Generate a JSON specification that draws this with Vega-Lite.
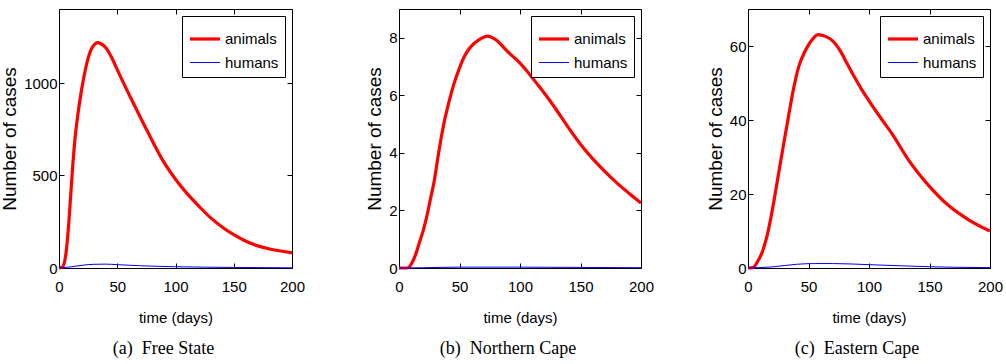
{
  "$schema": "https://vega.github.io/schema/vega-lite/v6.json",
  "bounds": "flush",
  "spacing": 107,
  "padding": {"left": 0, "top": 8, "right": 0, "bottom": 0},
  "background": "white",
  "resolve": {"scale": {"color": "independent", "strokeWidth": "independent"}, "legend": {"color": "independent", "strokeWidth": "independent"}},
  "datasets": {
    "fs": [
      {"day": 0, "series": "animals", "cases": 0},
      {"day": 3, "series": "animals", "cases": 6},
      {"day": 6, "series": "animals", "cases": 80},
      {"day": 8, "series": "animals", "cases": 210},
      {"day": 10, "series": "animals", "cases": 390},
      {"day": 12, "series": "animals", "cases": 570},
      {"day": 14, "series": "animals", "cases": 715},
      {"day": 16, "series": "animals", "cases": 820},
      {"day": 18, "series": "animals", "cases": 910},
      {"day": 21, "series": "animals", "cases": 1020},
      {"day": 24, "series": "animals", "cases": 1110},
      {"day": 27, "series": "animals", "cases": 1172},
      {"day": 30, "series": "animals", "cases": 1205},
      {"day": 33, "series": "animals", "cases": 1218},
      {"day": 36, "series": "animals", "cases": 1212},
      {"day": 40, "series": "animals", "cases": 1192},
      {"day": 45, "series": "animals", "cases": 1140},
      {"day": 50, "series": "animals", "cases": 1072},
      {"day": 55, "series": "animals", "cases": 1005},
      {"day": 60, "series": "animals", "cases": 940},
      {"day": 65, "series": "animals", "cases": 876},
      {"day": 70, "series": "animals", "cases": 812},
      {"day": 75, "series": "animals", "cases": 750},
      {"day": 80, "series": "animals", "cases": 688},
      {"day": 90, "series": "animals", "cases": 572},
      {"day": 100, "series": "animals", "cases": 480},
      {"day": 110, "series": "animals", "cases": 402},
      {"day": 120, "series": "animals", "cases": 335},
      {"day": 130, "series": "animals", "cases": 272},
      {"day": 140, "series": "animals", "cases": 222},
      {"day": 150, "series": "animals", "cases": 180},
      {"day": 160, "series": "animals", "cases": 146},
      {"day": 170, "series": "animals", "cases": 121},
      {"day": 180, "series": "animals", "cases": 104},
      {"day": 190, "series": "animals", "cases": 92},
      {"day": 200, "series": "animals", "cases": 82},
      {"day": 0, "series": "humans", "cases": 0},
      {"day": 10, "series": "humans", "cases": 6},
      {"day": 20, "series": "humans", "cases": 15},
      {"day": 30, "series": "humans", "cases": 20},
      {"day": 40, "series": "humans", "cases": 21},
      {"day": 50, "series": "humans", "cases": 18},
      {"day": 70, "series": "humans", "cases": 12},
      {"day": 100, "series": "humans", "cases": 7},
      {"day": 150, "series": "humans", "cases": 3},
      {"day": 200, "series": "humans", "cases": 1}
    ],
    "nc": [
      {"day": 0, "series": "animals", "cases": 0},
      {"day": 5, "series": "animals", "cases": 0.0},
      {"day": 8, "series": "animals", "cases": 0.02},
      {"day": 11, "series": "animals", "cases": 0.2},
      {"day": 14, "series": "animals", "cases": 0.5},
      {"day": 17, "series": "animals", "cases": 0.9},
      {"day": 20, "series": "animals", "cases": 1.3},
      {"day": 23, "series": "animals", "cases": 1.8},
      {"day": 26, "series": "animals", "cases": 2.4},
      {"day": 29, "series": "animals", "cases": 3.0},
      {"day": 32, "series": "animals", "cases": 3.8},
      {"day": 35, "series": "animals", "cases": 4.55},
      {"day": 38, "series": "animals", "cases": 5.2},
      {"day": 41, "series": "animals", "cases": 5.72},
      {"day": 44, "series": "animals", "cases": 6.2},
      {"day": 47, "series": "animals", "cases": 6.6},
      {"day": 50, "series": "animals", "cases": 6.95},
      {"day": 54, "series": "animals", "cases": 7.35},
      {"day": 58, "series": "animals", "cases": 7.62},
      {"day": 62, "series": "animals", "cases": 7.8},
      {"day": 66, "series": "animals", "cases": 7.93},
      {"day": 70, "series": "animals", "cases": 8.02},
      {"day": 73, "series": "animals", "cases": 8.06},
      {"day": 76, "series": "animals", "cases": 8.03},
      {"day": 80, "series": "animals", "cases": 7.93},
      {"day": 84, "series": "animals", "cases": 7.78},
      {"day": 88, "series": "animals", "cases": 7.6},
      {"day": 92, "series": "animals", "cases": 7.43},
      {"day": 96, "series": "animals", "cases": 7.28},
      {"day": 100, "series": "animals", "cases": 7.12},
      {"day": 105, "series": "animals", "cases": 6.88},
      {"day": 110, "series": "animals", "cases": 6.62},
      {"day": 115, "series": "animals", "cases": 6.35},
      {"day": 120, "series": "animals", "cases": 6.08},
      {"day": 130, "series": "animals", "cases": 5.5},
      {"day": 140, "series": "animals", "cases": 4.88},
      {"day": 150, "series": "animals", "cases": 4.3},
      {"day": 160, "series": "animals", "cases": 3.8},
      {"day": 170, "series": "animals", "cases": 3.36},
      {"day": 180, "series": "animals", "cases": 2.96},
      {"day": 190, "series": "animals", "cases": 2.6},
      {"day": 200, "series": "animals", "cases": 2.26},
      {"day": 0, "series": "humans", "cases": 0},
      {"day": 20, "series": "humans", "cases": 0.01},
      {"day": 50, "series": "humans", "cases": 0.03},
      {"day": 100, "series": "humans", "cases": 0.03},
      {"day": 150, "series": "humans", "cases": 0.02},
      {"day": 200, "series": "humans", "cases": 0.01}
    ],
    "ec": [
      {"day": 0, "series": "animals", "cases": 0},
      {"day": 4, "series": "animals", "cases": 0.1},
      {"day": 8, "series": "animals", "cases": 1.8},
      {"day": 12, "series": "animals", "cases": 4.5},
      {"day": 16, "series": "animals", "cases": 9},
      {"day": 20, "series": "animals", "cases": 15.5},
      {"day": 25, "series": "animals", "cases": 25},
      {"day": 30, "series": "animals", "cases": 34.5},
      {"day": 34, "series": "animals", "cases": 42},
      {"day": 38, "series": "animals", "cases": 49},
      {"day": 42, "series": "animals", "cases": 54.5},
      {"day": 47, "series": "animals", "cases": 58.5},
      {"day": 52, "series": "animals", "cases": 61.3},
      {"day": 58, "series": "animals", "cases": 63.1},
      {"day": 64, "series": "animals", "cases": 62.6},
      {"day": 70, "series": "animals", "cases": 61.4},
      {"day": 76, "series": "animals", "cases": 58.8},
      {"day": 82, "series": "animals", "cases": 55.2},
      {"day": 88, "series": "animals", "cases": 51.6},
      {"day": 94, "series": "animals", "cases": 48.2},
      {"day": 100, "series": "animals", "cases": 45.2},
      {"day": 110, "series": "animals", "cases": 40.4},
      {"day": 120, "series": "animals", "cases": 35.8},
      {"day": 133, "series": "animals", "cases": 29},
      {"day": 149, "series": "animals", "cases": 22.4},
      {"day": 166, "series": "animals", "cases": 16.8},
      {"day": 183, "series": "animals", "cases": 12.9},
      {"day": 200, "series": "animals", "cases": 10},
      {"day": 0, "series": "humans", "cases": 0},
      {"day": 20, "series": "humans", "cases": 0.3},
      {"day": 40, "series": "humans", "cases": 1.0},
      {"day": 55, "series": "humans", "cases": 1.2},
      {"day": 70, "series": "humans", "cases": 1.2},
      {"day": 100, "series": "humans", "cases": 0.9},
      {"day": 130, "series": "humans", "cases": 0.55},
      {"day": 150, "series": "humans", "cases": 0.35},
      {"day": 170, "series": "humans", "cases": 0.2},
      {"day": 200, "series": "humans", "cases": 0.1}
    ]
  },
  "config": {
    "view": {"stroke": "black", "strokeWidth": 1},
    "axis": {
      "grid": false,
      "domain": false,
      "tickColor": "black",
      "tickSize": -5,
      "labelColor": "black",
      "labelFont": "Liberation Sans",
      "labelFontSize": 15,
      "labelFlush": false,
      "labelOverlap": false,
      "titleFont": "Liberation Sans",
      "titleFontWeight": "normal",
      "titleColor": "black",
      "format": "d"
    },
    "axisX": {"labelPadding": 16, "titleFontSize": 15, "titlePadding": 16},
    "axisY": {"labelPadding": 7, "titleFontSize": 19, "titlePadding": 4},
    "legend": {
      "orient": "top-right",
      "offset": 7,
      "strokeColor": "black",
      "fillColor": "white",
      "padding": 6,
      "symbolType": "stroke",
      "symbolSize": 900,
      "labelFont": "Liberation Sans",
      "labelFontSize": 15,
      "labelColor": "black",
      "rowPadding": 0,
      "labelOffset": 3
    },
    "title": {"font": "Liberation Serif", "fontSize": 18, "fontWeight": "normal", "color": "black", "orient": "bottom", "offset": 15, "dx": -12}
  },
  "hconcat": [
    {
      "width": 233, "height": 259,
      "title": {"text": "(a)\u00a0\u00a0Free State"},
      "data": {"name": "fs"},
      "layer": [
        {
          "mark": {"type": "line", "interpolate": "monotone"},
          "encoding": {
            "x": {"field": "day", "type": "quantitative", "scale": {"domain": [0, 200], "nice": false}, "axis": {"values": [0, 50, 100, 150, 200], "title": "time (days)"}},
            "y": {"field": "cases", "type": "quantitative", "scale": {"domain": [0, 1400], "nice": false}, "axis": {"values": [0, 500, 1000], "title": "Number of cases"}},
            "color": {"field": "series", "type": "nominal", "scale": {"domain": ["animals", "humans"], "range": ["#ff0000", "#0000ff"]}, "legend": {"title": null}},
            "strokeWidth": {"field": "series", "type": "nominal", "scale": {"domain": ["animals", "humans"], "range": [3.2, 1]}, "legend": {"title": null}}
          }
        },
        {
          "mark": {"type": "line", "opacity": 0},
          "encoding": {
            "x": {"field": "day", "type": "quantitative", "scale": {"domain": [0, 200], "nice": false}, "axis": {"orient": "top", "values": [0, 50, 100, 150, 200], "labels": false, "title": null}},
            "y": {"field": "cases", "type": "quantitative", "scale": {"domain": [0, 1400], "nice": false}, "axis": {"orient": "right", "values": [0, 500, 1000], "labels": false, "title": null}},
            "detail": {"field": "series"}
          }
        }
      ],
      "resolve": {"axis": {"x": "independent", "y": "independent"}}
    },
    {
      "width": 242, "height": 259,
      "title": {"text": "(b)\u00a0\u00a0Northern Cape"},
      "data": {"name": "nc"},
      "layer": [
        {
          "mark": {"type": "line", "interpolate": "monotone"},
          "encoding": {
            "x": {"field": "day", "type": "quantitative", "scale": {"domain": [0, 200], "nice": false}, "axis": {"values": [0, 50, 100, 150, 200], "title": "time (days)"}},
            "y": {"field": "cases", "type": "quantitative", "scale": {"domain": [0, 9], "nice": false}, "axis": {"values": [0, 2, 4, 6, 8], "title": "Number of cases"}},
            "color": {"field": "series", "type": "nominal", "scale": {"domain": ["animals", "humans"], "range": ["#ff0000", "#0000ff"]}, "legend": {"title": null}},
            "strokeWidth": {"field": "series", "type": "nominal", "scale": {"domain": ["animals", "humans"], "range": [3.2, 1]}, "legend": {"title": null}}
          }
        },
        {
          "mark": {"type": "line", "opacity": 0},
          "encoding": {
            "x": {"field": "day", "type": "quantitative", "scale": {"domain": [0, 200], "nice": false}, "axis": {"orient": "top", "values": [0, 50, 100, 150, 200], "labels": false, "title": null}},
            "y": {"field": "cases", "type": "quantitative", "scale": {"domain": [0, 9], "nice": false}, "axis": {"orient": "right", "values": [0, 2, 4, 6, 8], "labels": false, "title": null}},
            "detail": {"field": "series"}
          }
        }
      ],
      "resolve": {"axis": {"x": "independent", "y": "independent"}}
    },
    {
      "width": 242, "height": 259,
      "title": {"text": "(c)\u00a0\u00a0Eastern Cape"},
      "data": {"name": "ec"},
      "layer": [
        {
          "mark": {"type": "line", "interpolate": "monotone"},
          "encoding": {
            "x": {"field": "day", "type": "quantitative", "scale": {"domain": [0, 200], "nice": false}, "axis": {"values": [0, 50, 100, 150, 200], "title": "time (days)"}},
            "y": {"field": "cases", "type": "quantitative", "scale": {"domain": [0, 70], "nice": false}, "axis": {"values": [0, 20, 40, 60], "title": "Number of cases"}},
            "color": {"field": "series", "type": "nominal", "scale": {"domain": ["animals", "humans"], "range": ["#ff0000", "#0000ff"]}, "legend": {"title": null}},
            "strokeWidth": {"field": "series", "type": "nominal", "scale": {"domain": ["animals", "humans"], "range": [3.2, 1]}, "legend": {"title": null}}
          }
        },
        {
          "mark": {"type": "line", "opacity": 0},
          "encoding": {
            "x": {"field": "day", "type": "quantitative", "scale": {"domain": [0, 200], "nice": false}, "axis": {"orient": "top", "values": [0, 50, 100, 150, 200], "labels": false, "title": null}},
            "y": {"field": "cases", "type": "quantitative", "scale": {"domain": [0, 70], "nice": false}, "axis": {"orient": "right", "values": [0, 20, 40, 60], "labels": false, "title": null}},
            "detail": {"field": "series"}
          }
        }
      ],
      "resolve": {"axis": {"x": "independent", "y": "independent"}}
    }
  ]
}
